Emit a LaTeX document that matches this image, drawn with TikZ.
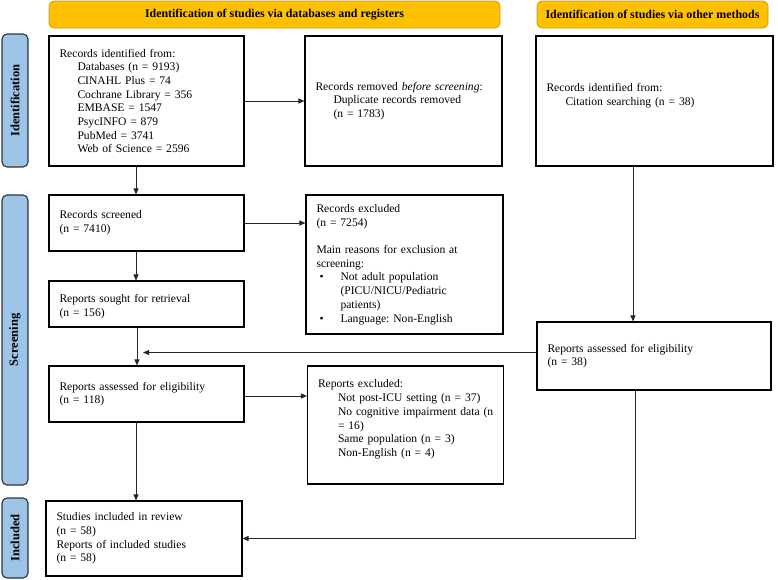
\documentclass[tikz,border=0pt]{standalone}
\usepackage{fontspec}
\setmainfont{Liberation Serif}
\usetikzlibrary{arrows.meta}
\definecolor{headgold}{HTML}{FFC000}
\definecolor{headedge}{HTML}{D09C00}
\definecolor{phaseblue}{HTML}{9DC3E6}
\definecolor{phaseedge}{HTML}{2B3340}
\frenchspacing
\begin{document}
\begin{tikzpicture}[x=1pt,y=-1pt,
 rec/.style={draw,line width=1.1pt,inner xsep=10.5pt,inner ysep=0pt,align=left,
   font=\fontsize{11.6}{13.7}\selectfont},
 head/.style={draw=headedge,fill=headgold,rounded corners=5pt,line width=.8pt,
   minimum height=27pt,inner sep=0pt,font=\bfseries\fontsize{11.9}{13}\selectfont},
 phase/.style={draw=phaseedge,fill=phaseblue,rounded corners=5pt,line width=1.1pt,
   rotate=90,minimum height=26pt,inner sep=0pt,font=\bfseries\fontsize{12.5}{13}\selectfont},
 arr/.style={-{Triangle[length=6pt,width=5pt]},line width=.9pt,black!85}]
 \useasboundingbox (0,0) rectangle (778,579);
 % headers and phases
 \node[head,minimum width=451pt] (hdb) at (274.5,14.5) {Identification of studies via databases and registers};
 \node[head,minimum width=231pt] (hot) at (652.5,14.5) {Identification of studies via other methods};
 \node[phase,minimum width=133pt] (pid) at (15,100.5) {Identification};
 \node[phase,minimum width=290pt] (pscr) at (15,340) {Screening};
 \node[phase,minimum width=80pt] (pinc) at (15,538) {Included};
 % databases column
 \node[rec,text width=174pt,minimum height=130pt] (idb) at (146.5,101)
   {Records identified from:\\
    \hspace*{18pt}Databases (n = 9193)\\
    \hspace*{18pt}CINAHL Plus = 74\\
    \hspace*{18pt}Cochrane Library = 356\\
    \hspace*{18pt}EMBASE = 1547\\
    \hspace*{18pt}PsycINFO = 879\\
    \hspace*{18pt}PubMed = 3741\\
    \hspace*{18pt}Web of Science = 2596};
 \node[rec,text width=176pt,minimum height=130pt] (dup) at (403.5,101)
   {Records removed \textit{before screening}:\\
    \hspace*{18pt}Duplicate records removed\\
    \hspace*{18pt}(n = 1783)};
 \node[rec,text width=174pt,minimum height=56pt] (scr) at (146.5,223)
   {Records screened\\(n = 7410)};
 \node[rec,text width=176pt,minimum height=139pt] (exc) at (404.5,264.5)
   {Records excluded\\(n = 7254)\\[13.7pt]
    Main reasons for exclusion at\\screening:\\
    \makebox[24pt][l]{\hspace*{3pt}\textbullet}Not adult population\\
    \hspace*{24pt}(PICU/NICU/Pediatric\\
    \hspace*{24pt}patients)\\
    \makebox[24pt][l]{\hspace*{3pt}\textbullet}Language: Non-English};
 \node[rec,text width=174pt,minimum height=46pt] (sought) at (146.5,304)
   {\mbox{}\\Reports sought for retrieval\\(n = 156)};
 \node[rec,text width=174pt,minimum height=56pt] (elig) at (146.5,394)
   {Reports assessed for eligibility\\(n = 118)};
 \node[rec,text width=175pt,minimum height=118pt] (rexc) at (405.5,425)
   {Reports excluded:\\
    \hspace*{20pt}Not post-ICU setting (n = 37)\\
    \hspace*{20pt}\mbox{No cognitive impairment data (n}\\
    \hspace*{20pt}= 16)\\
    \hspace*{20pt}Same population (n = 3)\\
    \hspace*{20pt}Non-English (n = 4)\\ \mbox{}};
 \node[rec,text width=175pt,minimum height=75pt] (incl) at (144,538.5)
   {Studies included in review\\(n = 58)\\Reports of included studies\\(n = 58)};
 % other methods column
 \node[rec,text width=216pt,minimum height=130pt] (cit) at (654.5,101)
   {Records identified from:\\
    \hspace*{19pt}Citation searching (n = 38)\\ \mbox{}};
 \node[rec,text width=213pt,minimum height=68pt] (oelig) at (654,356)
   {Reports assessed for eligibility\\(n = 38)};
 % connectors
 \draw[arr] ([xshift=-10.5pt]idb.south) -- ([xshift=-10.5pt]scr.north);
 \draw[arr] (idb.east) -- (dup.west);
 \draw[arr] (scr.east) -- (scr.east -| exc.west);
 \draw[arr] ([xshift=-10.5pt]scr.south) -- ([xshift=-10.5pt]sought.north);
 \draw[arr] ([xshift=-9.5pt]sought.south) -- ([xshift=-9.5pt]elig.north);
 \draw[arr] ([yshift=-2pt]elig.east) -- ([yshift=-2pt]elig.east -| rexc.west);
 \draw[arr] ([xshift=-10.5pt]elig.south) -- ([xshift=-10.5pt]elig.south |- incl.north);
 \draw[arr] ([xshift=-21.5pt]cit.south) -- ([xshift=-21.5pt]cit.south |- oelig.north);
 \coordinate (join) at (143,352.5);
 \draw[arr] (oelig.west |- join) -- (join);
 \draw[arr] ([xshift=-19pt]oelig.south) |- (incl.east);
\end{tikzpicture}
\end{document}
